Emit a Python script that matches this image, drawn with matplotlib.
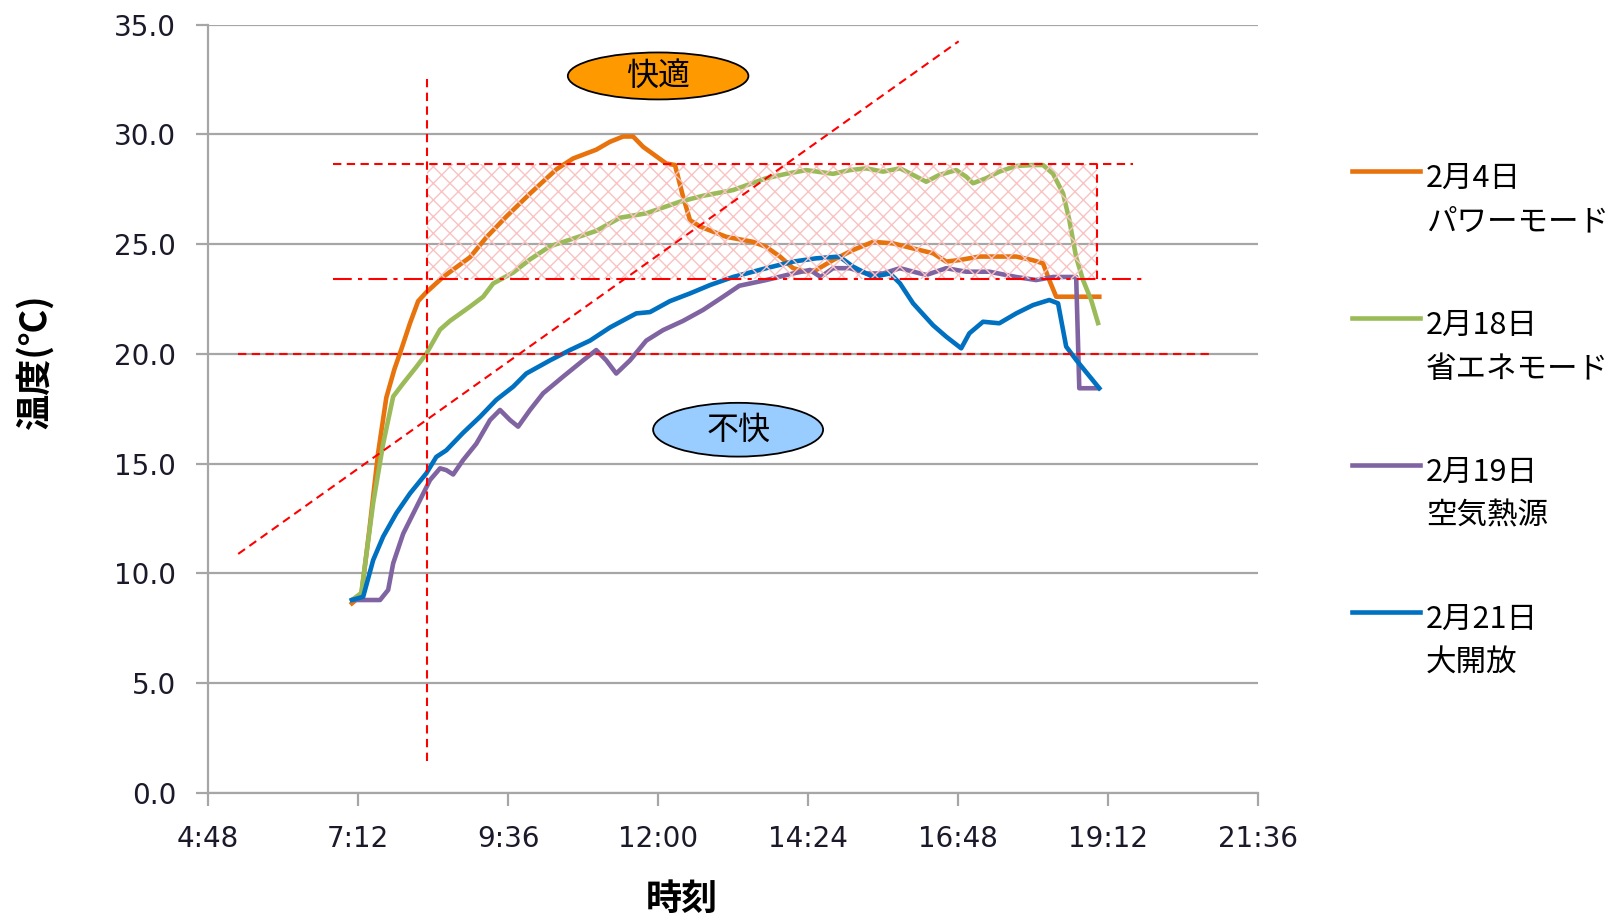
import numpy as np
import matplotlib
matplotlib.use('Agg')
import matplotlib.pyplot as plt
from matplotlib.patches import Ellipse
from matplotlib.lines import Line2D
from matplotlib.ticker import FuncFormatter

plt.rcParams['font.family'] = ['Noto Sans CJK JP', 'DejaVu Sans']
plt.rcParams['hatch.linewidth'] = 1.0

# time of day in hours, temperature in degC
t_feb04 = [7.10, 7.25, 7.38, 7.52, 7.65, 7.78, 7.89, 8.03, 8.16, 8.29, 8.56, 8.75, 8.99, 9.25,
           9.57, 9.95, 10.37, 10.64, 11.01, 11.23, 11.44, 11.60, 11.76, 12.13, 12.27, 12.40,
           12.51, 12.67, 13.09, 13.52, 13.73, 13.95, 14.16, 14.37, 14.53, 14.80, 15.12, 15.44,
           15.76, 16.08, 16.40, 16.61, 16.82, 17.14, 17.46, 17.73, 17.99, 18.16, 18.26, 18.37, 19.06]
T_feb04 = [8.63, 9.0, 12.0, 15.5, 18.0, 19.3, 20.2, 21.4, 22.4, 22.8, 23.5, 23.9, 24.4, 25.3,
           26.25, 27.3, 28.4, 28.9, 29.3, 29.66, 29.9, 29.9, 29.43, 28.67, 28.6, 27.15,
           26.09, 25.8, 25.33, 25.1, 24.87, 24.43, 23.9, 23.74, 23.82, 24.27, 24.73, 25.1,
           25.03, 24.8, 24.58, 24.2, 24.27, 24.43, 24.43, 24.43, 24.27, 24.12, 23.36, 22.6, 22.6]

t_feb18 = [7.10, 7.25, 7.44, 7.60, 7.76, 7.92, 8.13, 8.29, 8.51, 8.67, 8.99, 9.20, 9.36, 9.68,
           9.95, 10.27, 10.59, 11.01, 11.39, 11.81, 12.35, 12.72, 13.20, 13.73, 14.05, 14.37,
           14.80, 15.07, 15.33, 15.60, 15.87, 16.08, 16.29, 16.50, 16.77, 16.93, 17.04, 17.25,
           17.46, 17.73, 18.00, 18.16, 18.32, 18.48, 18.58, 18.69, 18.80, 18.93, 19.04]
T_feb18 = [8.78, 9.1, 13.2, 15.9, 18.05, 18.65, 19.4, 20.0, 21.1, 21.5, 22.15, 22.6, 23.2, 23.7,
           24.3, 24.9, 25.2, 25.6, 26.2, 26.4, 26.93, 27.2, 27.46, 28.0, 28.2, 28.37,
           28.2, 28.37, 28.45, 28.3, 28.45, 28.15, 27.84, 28.15, 28.37, 28.07, 27.77, 28.0,
           28.3, 28.56, 28.6, 28.6, 28.2, 27.31, 26.1, 24.4, 23.36, 22.45, 21.4]

t_feb19 = [7.12, 7.55, 7.68, 7.76, 7.92, 8.13, 8.35, 8.51, 8.61, 8.72, 8.88, 9.09, 9.31, 9.47,
           9.63, 9.76, 9.95, 10.16, 10.48, 10.80, 11.01, 11.17, 11.33, 11.55, 11.81, 12.08,
           12.40, 12.72, 13.04, 13.30, 13.73, 14.16, 14.43, 14.60, 14.80, 15.07, 15.33, 15.60,
           15.87, 16.29, 16.61, 16.93, 17.30, 17.73, 18.05, 18.32, 18.69, 18.74, 19.04]
T_feb19 = [8.78, 8.78, 9.24, 10.45, 11.8, 13.0, 14.25, 14.78, 14.7, 14.5, 15.16, 15.9, 16.98, 17.44,
           16.98, 16.68, 17.44, 18.2, 18.96, 19.7, 20.17, 19.7, 19.1, 19.7, 20.6, 21.08,
           21.5, 22.0, 22.6, 23.1, 23.36, 23.66, 23.82, 23.5, 23.9, 23.9, 23.66, 23.66,
           23.9, 23.59, 23.9, 23.74, 23.74, 23.5, 23.36, 23.5, 23.5, 18.43, 18.43]

t_feb21 = [7.10, 7.28, 7.44, 7.60, 7.81, 8.03, 8.29, 8.45, 8.61, 8.88, 9.15, 9.41, 9.68, 9.89,
           10.27, 10.59, 10.91, 11.23, 11.65, 11.87, 12.19, 12.51, 12.83, 13.20, 13.73, 14.16,
           14.53, 14.90, 15.12, 15.44, 15.71, 15.87, 16.08, 16.40, 16.61, 16.85, 16.98, 17.20,
           17.46, 17.73, 18.00, 18.26, 18.40, 18.53, 18.69, 19.06]
T_feb21 = [8.78, 8.93, 10.6, 11.67, 12.73, 13.64, 14.55, 15.3, 15.6, 16.4, 17.13, 17.9, 18.5, 19.1,
           19.7, 20.17, 20.6, 21.2, 21.84, 21.9, 22.4, 22.75, 23.13, 23.5, 23.9, 24.2,
           24.35, 24.43, 23.97, 23.5, 23.66, 23.21, 22.3, 21.3, 20.78, 20.25, 20.93, 21.46,
           21.39, 21.84, 22.22, 22.45, 22.3, 20.33, 19.72, 18.43]

dates = ['2月4日', '2月18日', '2月19日', '2月21日']
modes = ['パワーモード', '省エネモード', '空気熱源', '大開放']
colors = ['#E8720C', '#9BBB59', '#8064A2', '#0070C0']
times = [t_feb04, t_feb18, t_feb19, t_feb21]
temps = [T_feb04, T_feb18, T_feb19, T_feb21]

# comfort zone guide lines
comfort_high = 28.63
comfort_low = 23.4
limit_line = 20.0
start_time = 8.3
end_time = 19.03
diag_t = [5.28, 16.81]
diag_T = [10.88, 34.24]

fig = plt.figure(figsize=(16.08, 9.21), dpi=100)
ax = fig.add_axes([0.12948, 0.13931, 0.65286, 0.83398])

grey = '#A6A6A6'
for t, T, c in zip(times, temps, colors):
    ax.plot(t, T, color=c, lw=3.3, solid_joinstyle='round', zorder=3)

red = '#FF0000'
dash = (0, (4, 2.6))
ax.fill_between([start_time, end_time], comfort_low, comfort_high, facecolor='none',
                edgecolor='#FAC2C2', hatch='xx', linewidth=0, zorder=4)
ax.plot([6.8, 19.6], [comfort_high, comfort_high], color=red, lw=1.5, ls=dash, zorder=5)
ax.plot([6.8, 19.76], [comfort_low, comfort_low], color=red, lw=1.5, ls=(0, (9, 3, 2, 3)), zorder=5)
ax.plot([5.28, 20.86], [limit_line, limit_line], color=red, lw=1.5, ls=dash, zorder=5)
ax.plot([start_time, start_time], [1.44, 32.5], color=red, lw=1.5, ls=dash, zorder=5)
ax.plot([end_time, end_time], [comfort_low, comfort_high], color=red, lw=1.5, ls=dash, zorder=5)
ax.plot(diag_t, diag_T, color=red, lw=1.5, ls=dash, zorder=5)

ax.add_patch(Ellipse((12.0, 32.66), 2.89, 2.14, facecolor='#FF9900', edgecolor='black', lw=1.3, zorder=6))
ax.text(12.0, 32.66, '快適', ha='center', va='center', fontsize=23, zorder=7)
ax.add_patch(Ellipse((13.28, 16.54), 2.72, 2.45, facecolor='#99CCFF', edgecolor='black', lw=1.3, zorder=6))
ax.text(13.28, 16.54, '不快', ha='center', va='center', fontsize=23, zorder=7)

ax.set_xlim(4.8, 21.6)
ax.set_ylim(0, 35)
ax.set_xticks(np.arange(4.8, 21.7, 2.4))
ax.set_yticks(np.arange(0, 35.1, 5))

def hm(v, pos):
    m = int(round(v * 60))
    return f'{m // 60}:{m % 60:02d}'

ax.xaxis.set_major_formatter(FuncFormatter(hm))
ax.yaxis.set_major_formatter(FuncFormatter(lambda v, p: f'{v:.1f}'))
ax.grid(axis='y', color=grey, lw=1.6, zorder=1)
ax.set_axisbelow(True)
for s in ['top', 'right']:
    ax.spines[s].set_visible(False)
for s in ['left', 'bottom']:
    ax.spines[s].set_color(grey)
    ax.spines[s].set_linewidth(1.6)
ax.tick_params(direction='out', length=9, width=1.6, color=grey, labelcolor='#1A1A2A',
               labelsize=20, pad=14)
for lab in ax.get_xticklabels() + ax.get_yticklabels():
    lab.set_family('DejaVu Sans')

ax.set_xlabel('時刻', fontsize=26, fontweight='bold')
ax.xaxis.label.set_va('center')
ax.xaxis.set_label_coords(0.4513, -0.1395)
ax.set_ylabel('温度(℃)', fontsize=26, fontweight='bold')
ax.yaxis.label.set_va('center')
ax.yaxis.set_label_coords(-0.165, 0.5614)

# legend drawn by hand: handle beside the first line of a two-line label
for i, (d, m, c) in enumerate(zip(dates, modes, colors)):
    y = 1 - (171 + 147 * i) / 921
    fig.add_artist(Line2D([0.8408, 0.8831], [y, y], transform=fig.transFigure, color=c, lw=3.3))
    fig.text(0.8868, y - 7 / 921, d, fontsize=22, va='center', ha='left')
    fig.text(0.8868, y - 51 / 921, m, fontsize=22, va='center', ha='left')

fig.savefig('out.png', dpi=100)
